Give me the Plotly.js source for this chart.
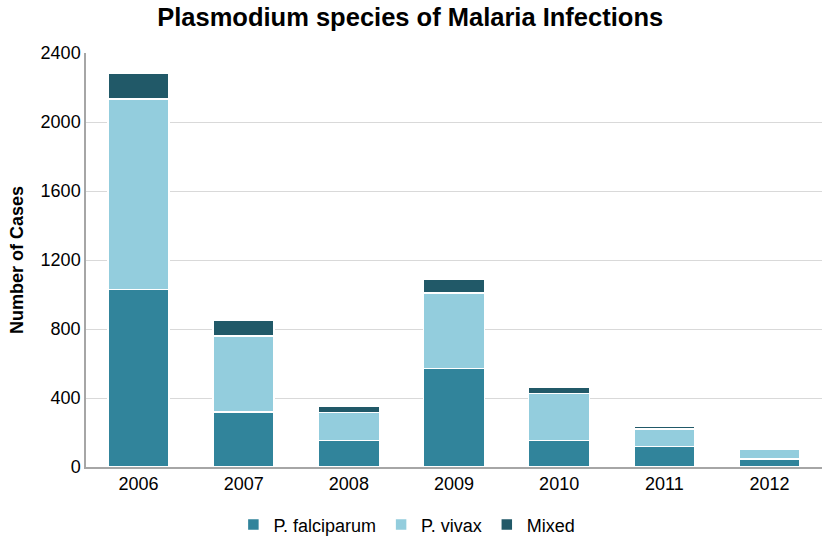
<!DOCTYPE html>
<html>
<head>
<meta charset="utf-8">
<script src="https://cdn.plot.ly/plotly-3.0.1.min.js"></script>
<style>
  body { margin: 0; background: #fff; }
  #chart { width: 827px; height: 540px; }
</style>
</head>
<body>
<div id="chart"></div>
<script>
var years = ['2006', '2007', '2008', '2009', '2010', '2011', '2012'];
var falciparum = [1030, 320, 155, 570, 155, 118, 47];
var vivax = [1104, 440, 160, 440, 270, 103, 55];
var mixed = [146, 90, 40, 80, 35, 15, 3];

function series(name, values, color) {
    return {
        x: years,
        y: values,
        name: name,
        type: 'bar',
        marker: {
            color: color,
            line: { color: '#ffffff', width: 1.5 }
        },
        hoverinfo: 'x+y+name'
    };
}

var data = [
    series('P. falciparum', falciparum, '#31849b'),
    series('P. vivax', vivax, '#93cddd'),
    series('Mixed', mixed, '#215968')
];

var layout = {
    width: 827,
    height: 540,
    barmode: 'stack',
    bargap: 0.42,
    plot_bgcolor: '#ffffff',
    paper_bgcolor: '#ffffff',
    font: { family: 'Liberation Sans, Arial, sans-serif', size: 18, color: '#000' },
    title: {
        text: '<b>Plasmodium species of Malaria Infections</b>',
        font: { size: 25.5, color: '#000' },
        x: 0.496,
        xanchor: 'center',
        y: 0.969,
        yanchor: 'middle'
    },
    xaxis: {
        showline: true,
        linecolor: '#a6a6a6',
        linewidth: 1.5,
        ticks: '',
        tickfont: { size: 18 },
        automargin: false
    },
    yaxis: {
        range: [0, 2400],
        dtick: 400,
        showline: true,
        linecolor: '#a6a6a6',
        linewidth: 1.5,
        gridcolor: '#d9d9d9',
        gridwidth: 1,
        zeroline: false,
        ticks: '',
        ticklen: 0,
        tickfont: { size: 18 },
        automargin: false,
        title: {
            text: '<b>Number of Cases</b>',
            font: { size: 18 },
            standoff: 12
        }
    },
    legend: {
        orientation: 'h',
        x: 0.492,
        xanchor: 'center',
        xref: 'container',
        y: 0.028,
        yanchor: 'middle',
        yref: 'container',
        font: { size: 18 },
        traceorder: 'normal',
        itemwidth: 20
    },
    margin: { l: 86, r: 5, t: 53, b: 73 },
    showlegend: true
};

Plotly.newPlot('chart', data, layout, { displayModeBar: false });
</script>
</body>
</html>
